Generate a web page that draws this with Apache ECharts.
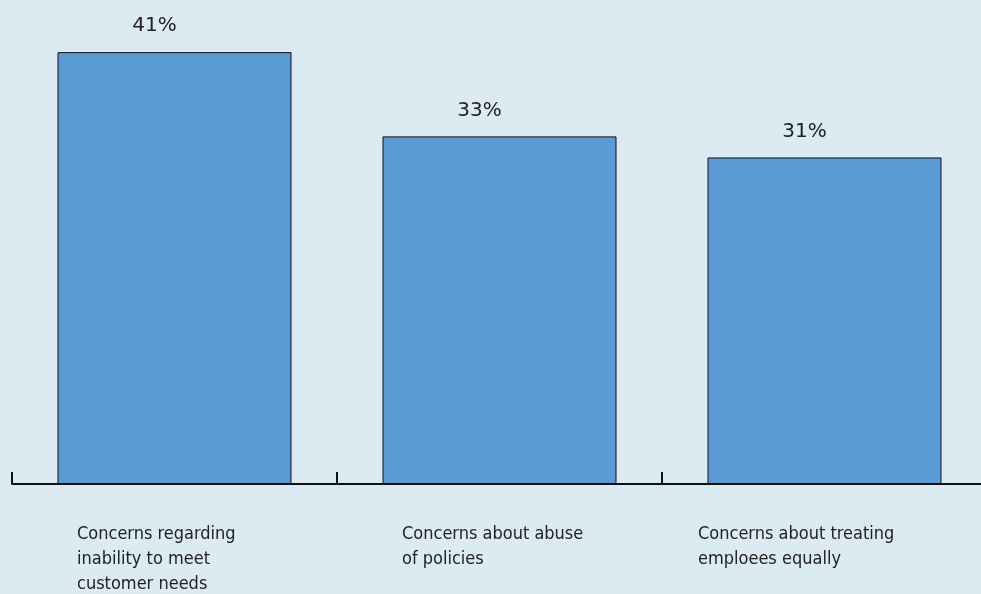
<!DOCTYPE html>
<html>
<head>
<meta charset="utf-8">
<script src="https://cdn.jsdelivr.net/npm/echarts@6/dist/echarts.min.js"></script>
<style>
  html, body { margin: 0; padding: 0; background: #dcebf2; }
  #chart { width: 981px; height: 594px; }
</style>
</head>
<body>
<div id="chart"></div>
<script>
(function(window, document, undefined){

  var categories = [
    'Concerns regarding\ninability to meet\ncustomer needs',
    'Concerns about abuse\nof policies',
    'Concerns about treating\nemploees equally'
  ]
  var values = [41, 33, 31]

  var chart = echarts.init(document.getElementById('chart'))

  var labelFont = 'DejaVu Sans Condensed'

  var option = {
    backgroundColor: '#dcebf2',
    animation: false,
    grid: {
      left: 12,
      top: 10,
      width: 975,
      bottom: 110,
      outerBoundsMode: 'none',
      containLabel: false
    },
    xAxis: {
      type: 'category',
      data: categories,
      boundaryGap: true,
      axisLine: { lineStyle: { color: '#111', width: 2 } },
      axisTick: { show: true, inside: true, length: 12, lineStyle: { color: '#111', width: 2 } },
      axisLabel: {
        margin: 38,
        interval: 0,
        verticalAlign: 'top',
        formatter: function (val, idx) {
          // each block gets its own width so the lines start where the original has them
          var key = idx === 2 ? 'w' : 'n'
          return val.split('\n').map(function (s) {
            return '{' + key + '|' + s + '}'
          }).join('\n')
        },
        rich: {
          n: { width: 195, align: 'left', lineHeight: 25, fontSize: 18, color: '#222', fontFamily: labelFont },
          w: { width: 253, align: 'left', lineHeight: 25, fontSize: 18, color: '#222', fontFamily: labelFont }
        }
      }
    },
    yAxis: {
      type: 'value',
      min: 0,
      max: 45,
      show: false,
      splitLine: { show: false }
    },
    series: [{
      type: 'bar',
      data: values,
      barWidth: '72%',
      itemStyle: {
        color: '#5b9bd5',
        borderColor: '#111',
        borderWidth: 1
      },
      label: {
        show: true,
        position: 'top',
        distance: 16,
        offset: [-20, 0],
        formatter: '{c}%',
        fontFamily: 'DejaVu Sans',
        fontSize: 20,
        color: '#222'
      }
    }]
  }

  chart.setOption(option)

})(window, document);
</script>
</body>
</html>
